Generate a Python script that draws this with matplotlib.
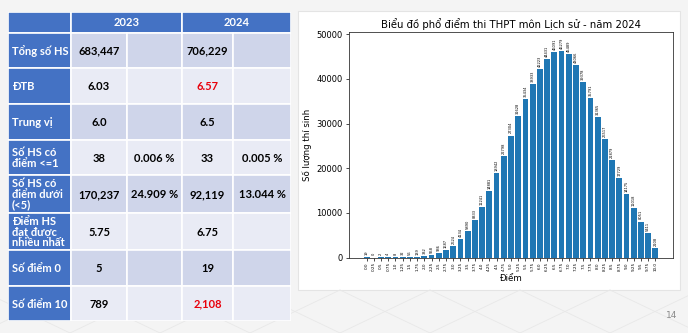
import numpy as np
import matplotlib.pyplot as plt
from matplotlib.patches import Rectangle

# score bins and number of candidates (Lich su 2024)
scores = ['0.0', '0.25', '0.5', '0.75', '1.0', '1.25', '1.5', '1.75', '2.0', '2.25',
          '2.5', '2.75', '3.0', '3.25', '3.5', '3.75', '4.0', '4.25', '4.5', '4.75',
          '5.0', '5.25', '5.5', '5.75', '6.0', '6.25', '6.5', '6.75', '7.0', '7.25',
          '7.5', '7.75', '8.0', '8.25', '8.5', '8.75', '9.0', '9.25', '9.5', '9.75', '10.0']
counts = [19, 0, 2, 4, 8, 32, 56, 139, 332, 558,
          936, 1687, 2624, 4134, 5890, 8333, 11241, 14881, 18942, 22798,
          27304, 31628, 35434, 38933, 42223, 44431, 46091, 46279, 45489, 43066,
          39378, 35791, 31365, 26517, 21879, 17729, 14175, 11018, 8051, 5411, 2108]

# summary table 2023 vs 2024
row_names = ['Tổng số HS', 'ĐTB', 'Trung vị', 'Số HS có\nđiểm <=1',
             'Số HS có\nđiểm dưới\n(<5)', 'Điểm HS\nđạt được\nnhiều nhất',
             'Số điểm 0', 'Số điểm 10']
val_2023 = ['683,447', '6.03', '6.0', '38', '170,237', '5.75', '5', '789']
pct_2023 = ['', '', '', '0.006 %', '24.909 %', '', '', '']
val_2024 = ['706,229', '6.57', '6.5', '33', '92,119', '6.75', '19', '2,108']
pct_2024 = ['', '', '', '0.005 %', '13.044 %', '', '', '']
red_2024 = [False, True, False, False, False, False, False, True]

W, H = 688, 333
fig = plt.figure(figsize=(W / 100, H / 100), dpi=100, facecolor='#f4f4f4')

def fig_axes(x0, y0, x1, y1, **kw):
    return fig.add_axes([x0 / W, 1 - y1 / H, (x1 - x0) / W, (y1 - y0) / H], **kw)

# faint background lines at the bottom of the slide
bg = fig_axes(0, 0, W, H)
bg.set_xlim(0, W)
bg.set_ylim(H, 0)
bg.axis('off')
for x0 in range(-200, 800, 90):
    bg.plot([x0, x0 + 90], [333, 290], color='#e8e8e8', lw=0.6)
    bg.plot([x0, x0 + 90], [290, 333], color='#e8e8e8', lw=0.6)
bg.text(672, 316, '14', ha='center', va='center', fontsize=6.5, color='#8a8a8a')

# ---- table ----
col_w = [63, 56, 55, 51, 58]
row_h = [21, 35, 36, 36, 35, 38, 37, 36, 35]
blue, dark, light = '#4472c4', '#cfd5ea', '#e9ebf5'
tfont = dict(family='Lato', fontweight='bold')

tx = fig_axes(8, 12, 8 + sum(col_w), 12 + sum(row_h))
tx.set_xlim(0, sum(col_w))
tx.set_ylim(sum(row_h), 0)
tx.axis('off')
xs = np.concatenate([[0], np.cumsum(col_w)])
ys = np.concatenate([[0], np.cumsum(row_h)])

def cell(c0, c1, r, color, text='', tcolor='black', ha='center'):
    tx.add_patch(Rectangle((xs[c0], ys[r]), xs[c1] - xs[c0], row_h[r],
                           facecolor=color, edgecolor='white', lw=1.2))
    if text:
        x = xs[c0] + 4 if ha == 'left' else (xs[c0] + xs[c1]) / 2
        tx.text(x, ys[r] + row_h[r] / 2 + 0.5, text, ha=ha, va='center',
                color=tcolor, fontsize=8, linespacing=0.95, **tfont)

cell(0, 1, 0, blue)
cell(1, 3, 0, blue, '2023', 'white')
cell(3, 5, 0, blue, '2024', 'white')
for i, name in enumerate(row_names):
    r = i + 1
    bgc = dark if i % 2 == 0 else light
    cell(0, 1, r, blue, name, 'white', ha='left')
    cell(1, 2, r, bgc, val_2023[i])
    cell(2, 3, r, bgc, pct_2023[i])
    cell(3, 4, r, bgc, val_2024[i], '#e8000b' if red_2024[i] else 'black')
    cell(4, 5, r, bgc, pct_2024[i])

# ---- chart panel ----
bg.add_patch(Rectangle((298, 11), 382, 279, facecolor='white', edgecolor='#e4e4e4', lw=0.8))

ax = fig_axes(349, 32, 673, 257.5)
bars = ax.bar(scores, counts, color='#1f77b4', width=0.8)
ax.bar_label(bars, labels=[str(c) for c in counts], rotation=90, fontsize=2.6, padding=1.5)
ax.set_ylim(0, 50500)
ax.set_title('Biểu đồ phổ điểm thi THPT môn Lịch sử - năm 2024', fontsize=7.3, pad=3)
ax.set_xlabel('Điểm', fontsize=6.2, labelpad=2)
ax.set_ylabel('Số lượng thí sinh', fontsize=6.2, labelpad=3)
ax.tick_params(axis='x', labelsize=3, rotation=90, length=2, width=0.5, pad=1.5)
ax.tick_params(axis='y', labelsize=6, length=2.5, width=0.5, pad=2)
for s in ax.spines.values():
    s.set_linewidth(0.6)
    s.set_color('#333333')

fig.savefig('out.png', dpi=100, facecolor=fig.get_facecolor())
